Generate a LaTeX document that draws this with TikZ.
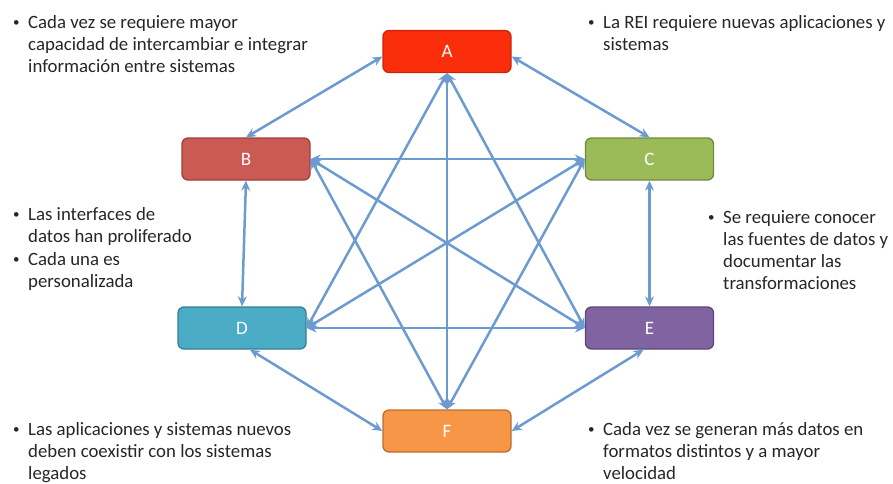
\documentclass[tikz,border=0pt]{standalone}
\usepackage{fontspec}
\setmainfont{Carlito}
\usetikzlibrary{arrows.meta}
\definecolor{fillA}{HTML}{FA2E0A}\definecolor{drawA}{HTML}{C8270B}
\definecolor{fillB}{HTML}{CB5A55}\definecolor{drawB}{HTML}{9B403C}
\definecolor{fillC}{HTML}{9BBB59}\definecolor{drawC}{HTML}{72893F}
\definecolor{fillD}{HTML}{4BACC6}\definecolor{drawD}{HTML}{357F93}
\definecolor{fillE}{HTML}{8064A2}\definecolor{drawE}{HTML}{5C4777}
\definecolor{fillF}{HTML}{F79646}\definecolor{drawF}{HTML}{BA6E30}
\definecolor{link}{HTML}{6C9BD2}
\newcommand{\bitem}[1]{\begin{tabular}[t]{@{}p{15pt}@{}l@{}}\raisebox{1.5pt}{\fontsize{13}{13}\selectfont\textbullet}&\begin{tabular}[t]{@{}l@{}}#1\end{tabular}\end{tabular}}
\tikzset{
  sysbox/.style={rounded corners=6pt, minimum width=128pt, minimum height=42pt, line width=1.3pt,
    text=white, font=\fontsize{19}{22}\selectfont, inner sep=0pt},
  link/.style={draw=link, line width=2.5pt, {Stealth[length=10pt,width=9pt]}-{Stealth[length=10pt,width=9pt]}},
  note/.style={anchor=base west, inner sep=0pt, text=black!85, font=\fontsize{18.8}{22.3}\selectfont}
}
\begin{document}
\begin{tikzpicture}[x=1pt,y=-1pt]
\useasboundingbox (0,0) rectangle (893,483);
\node[sysbox, fill=fillA, draw=drawA] (A) at (447,51.5) {A};
\node[sysbox, fill=fillB, draw=drawB] (B) at (246,159) {B};
\node[sysbox, fill=fillC, draw=drawC] (C) at (649.5,159) {C};
\node[sysbox, fill=fillD, draw=drawD] (D) at (242,328) {D};
\node[sysbox, fill=fillE, draw=drawE] (E) at (649.5,328) {E};
\node[sysbox, fill=fillF, draw=drawF] (F) at (447,431) {F};
% perimeter
\draw[link] ([yshift=-5pt]A.west) -- (B.north);
\draw[link] ([yshift=-5pt]A.east) -- (C.north);
\draw[link] (B.south) -- (D.north);
\draw[link] (C.south) -- (E.north);
\draw[link] ([xshift=8pt]D.south) -- (F.west);
\draw[link] ([xshift=-6pt]E.south) -- (F.east);
% star
\draw[link] (A.south) -- (D.east);
\draw[link] (A.south) -- (E.west);
\draw[link] (A.south) -- (F.north);
\draw[link] (B.east) -- (C.west);
\draw[link] (B.east) -- (E.west);
\draw[link] (B.east) -- (F.north);
\draw[link] (C.west) -- (D.east);
\draw[link] (C.west) -- (F.north);
\draw[link] (D.east) -- (E.west);
% notes
\node[note] (n1) at (13,28) {\bitem{Cada vez se requiere mayor\\capacidad de intercambiar e integrar\\información entre sistemas}};
\node[note] (n2) at (588,28) {\bitem{La REI requiere nuevas aplicaciones y\\sistemas}};
\node[note] (n3) at (13,220) {\bitem{Las interfaces de\\datos han proliferado}};
\node[note] (n4) at (13,265) {\bitem{Cada una es\\personalizada}};
\node[note] (n5) at (708,223) {\bitem{Se requiere conocer\\las fuentes de datos y\\documentar las\\transformaciones}};
\node[note] (n6) at (13,435) {\bitem{Las aplicaciones y sistemas nuevos\\deben coexistir con los sistemas\\legados}};
\node[note] (n7) at (588,435) {\bitem{Cada vez se generan más datos en\\formatos distintos y a mayor\\velocidad}};
\end{tikzpicture}
\end{document}
